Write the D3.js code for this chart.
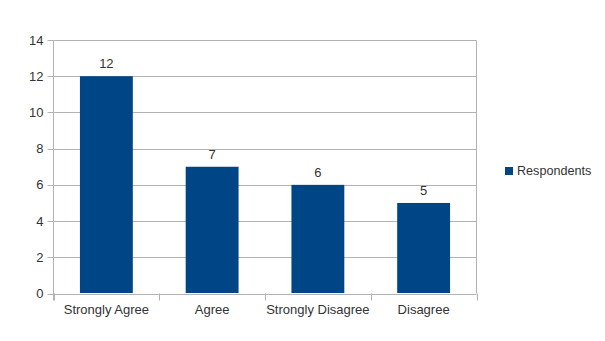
<!DOCTYPE html>
<html><head><meta charset="utf-8">
<script src="https://cdn.jsdelivr.net/npm/d3@7"></script>
<style>body{margin:0;background:#fff}svg{display:block}text{font-family:"Liberation Sans",Arial,sans-serif;}</style>
</head><body><svg id="c" width="605" height="341"></svg>
<script>
const categories = ["Strongly Agree","Agree","Strongly Disagree","Disagree"];
const respondents = [12,7,6,5];
const yTicks = [0,2,4,6,8,10,12,14];
const seriesName = "Respondents";

const svg = d3.select("#c");
const L=53.5,R=476.5,T=40,B=293.5;
const x = d3.scaleBand().domain(categories).range([L,R]).paddingInner(0.5).paddingOuter(0.25);
const y = d3.scaleLinear().domain([0,14]).range([B,T]);
const grid="#b3b3b3", txt="#333333", bar="#004586";

// gridlines
svg.append("g").selectAll("line").data(yTicks).join("line")
 .attr("x1",L-6).attr("x2",R).attr("y1",d=>Math.round(y(d))+0.5).attr("y2",d=>Math.round(y(d))+0.5)
 .attr("stroke",grid).attr("stroke-width",1);
// right border
svg.append("line").attr("x1",R).attr("x2",R).attr("y1",T+0.5).attr("y2",B).attr("stroke",grid);
// left axis
svg.append("line").attr("x1",L).attr("x2",L).attr("y1",T+0.5).attr("y2",B+7).attr("stroke",grid);
// category boundary ticks
const bounds = d3.range(categories.length+1).map(i=>L+i*x.step());
svg.append("g").selectAll("line").data(bounds).join("line")
 .attr("x1",d=>Math.round(d)+0.5).attr("x2",d=>Math.round(d)+0.5).attr("y1",B).attr("y2",B+7).attr("stroke",grid);

// bars
svg.append("g").selectAll("rect").data(respondents).join("rect")
 .attr("x",(d,i)=>x(categories[i])).attr("width",x.bandwidth())
 .attr("y",d=>y(d)).attr("height",d=>B-0.5-y(d)).attr("fill",bar);

// value labels
svg.append("g").selectAll("text").data(respondents).join("text")
 .attr("x",(d,i)=>x(categories[i])+x.bandwidth()/2).attr("y",d=>y(d)-8)
 .attr("text-anchor","middle").attr("font-size",13).attr("fill",txt).text(d=>d);

// y labels
svg.append("g").selectAll("text").data(yTicks).join("text")
 .attr("x",L-10).attr("y",d=>y(d)+4.5).attr("text-anchor","end")
 .attr("font-size",13).attr("fill",txt).text(d=>d);

// x labels
svg.append("g").selectAll("text").data(categories).join("text")
 .attr("x",d=>x(d)+x.bandwidth()/2).attr("y",314).attr("text-anchor","middle")
 .attr("font-size",13).attr("fill",txt).text(d=>d);

// legend
svg.append("rect").attr("x",505).attr("y",167).attr("width",8).attr("height",8).attr("fill",bar);
svg.append("text").attr("x",517).attr("y",175).attr("font-size",12.6).attr("fill",txt).text(seriesName);
</script></body></html>
